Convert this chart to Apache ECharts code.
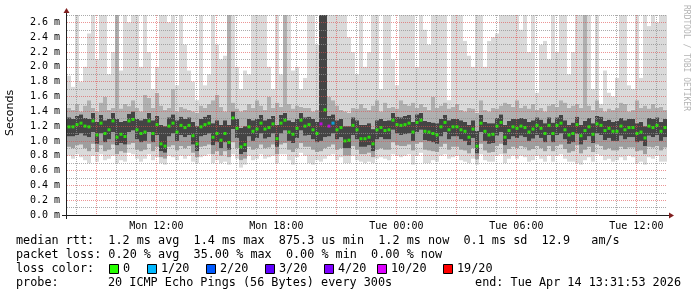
<!DOCTYPE html>
<html><head><meta charset="utf-8">
<script src="https://cdn.jsdelivr.net/npm/echarts@6/dist/echarts.min.js"></script>
<style>html,body{margin:0;padding:0;background:#fff}#c{width:697px;height:297px}</style>
</head><body><div id="c"></div>
<script>
// time in hours since Mon 00:00; 12-minute steps from Mon 07:31:53 to Tue 13:31:53
const startHour = 7 + 31/60 + 53/3600;
const stepHours = 0.2;

// median rtt (ms)
const med = [
1.19,1.19,1.22,1.24,1.20,1.19,1.27,1.08,1.24,1.10,1.15,1.27,1.05,1.09,1.06,1.27,1.29,1.15,1.10,1.12,1.27,1.10,1.22,0.96,0.93,1.20,1.24,1.12,1.21,1.18,
1.21,1.07,0.96,1.19,1.22,1.24,1.05,1.10,1.01,1.10,0.98,1.31,1.17,0.92,0.95,1.19,1.13,1.16,1.24,1.16,1.18,1.23,1.03,1.24,1.28,1.12,1.09,1.17,1.28,1.20,
1.22,1.15,1.10,1.23,1.42,1.20,1.24,1.15,1.18,1.00,1.01,1.21,1.15,1.03,1.03,1.05,0.96,1.15,1.18,1.14,1.15,1.28,1.22,1.21,1.22,1.24,1.12,1.25,1.28,1.13,
1.12,1.10,1.08,1.19,1.25,1.15,1.19,1.19,1.15,1.13,1.05,1.16,0.93,1.24,1.13,1.08,1.09,1.20,1.25,1.05,1.14,1.19,1.17,1.20,1.18,1.12,1.16,1.21,1.17,1.10,
1.21,1.10,1.21,1.24,1.15,1.08,1.10,1.22,1.07,1.14,1.19,1.09,1.23,1.21,1.14,1.17,1.13,1.13,1.20,1.15,1.18,1.18,1.10,1.12,1.04,1.20,1.18,1.21,1.13,1.18];

// smoke: min ping
const lo = [
0.80,0.76,0.82,0.78,0.74,0.70,0.80,0.72,0.82,0.74,0.76,0.80,0.70,0.74,0.72,0.84,0.82,0.76,0.72,0.76,0.82,0.74,0.78,0.70,0.68,0.80,0.78,0.74,0.80,0.76,
0.80,0.72,0.70,0.78,0.80,0.82,0.70,0.74,0.70,0.72,0.68,0.82,0.76,0.64,0.68,0.80,0.74,0.76,0.82,0.76,0.78,0.80,0.70,0.82,0.82,0.74,0.68,0.78,0.84,0.80,
0.70,0.68,0.74,0.72,0.76,0.80,0.82,0.74,0.78,0.70,0.70,0.80,0.74,0.72,0.70,0.72,0.70,0.76,0.78,0.76,0.74,0.82,0.80,0.78,0.80,0.82,0.68,0.80,0.84,0.70,
0.70,0.74,0.72,0.80,0.82,0.76,0.78,0.80,0.74,0.72,0.70,0.76,0.68,0.82,0.74,0.72,0.72,0.80,0.82,0.70,0.76,0.80,0.76,0.80,0.78,0.72,0.74,0.80,0.76,0.72,
0.80,0.72,0.80,0.82,0.76,0.72,0.72,0.70,0.68,0.74,0.78,0.72,0.82,0.80,0.74,0.76,0.72,0.74,0.78,0.74,0.80,0.78,0.70,0.72,0.68,0.78,0.76,0.80,0.72,0.72];

// smoke: lower edge of the middle band
const p10 = [
0.92,0.90,0.94,0.95,0.90,0.86,0.96,0.85,0.94,0.86,0.88,0.95,0.82,0.86,0.84,0.95,0.97,0.88,0.86,0.88,0.96,0.86,0.92,0.78,0.76,0.92,0.94,0.87,0.93,0.90,
0.93,0.84,0.78,0.92,0.93,0.95,0.82,0.86,0.80,0.86,0.78,0.98,0.90,0.74,0.76,0.92,0.88,0.90,0.95,0.90,0.91,0.95,0.82,0.95,0.97,0.88,0.85,0.90,0.97,0.92,
0.92,0.88,0.85,0.86,0.90,0.92,0.95,0.88,0.90,0.80,0.80,0.93,0.88,0.82,0.82,0.84,0.78,0.88,0.90,0.88,0.88,0.98,0.94,0.93,0.93,0.95,0.87,0.96,0.98,0.88,
0.87,0.86,0.85,0.92,0.96,0.88,0.92,0.92,0.88,0.87,0.83,0.90,0.75,0.96,0.87,0.84,0.85,0.93,0.96,0.83,0.89,0.92,0.90,0.93,0.91,0.87,0.89,0.93,0.90,0.86,
0.93,0.86,0.93,0.95,0.89,0.84,0.86,0.94,0.83,0.88,0.92,0.85,0.95,0.93,0.88,0.90,0.87,0.87,0.92,0.89,0.91,0.91,0.86,0.87,0.82,0.92,0.91,0.93,0.87,0.91];

// smoke: lower edge of the dark core
const p30 = [
1.06,1.06,1.08,1.10,1.07,1.05,1.12,0.96,1.10,0.98,1.02,1.12,0.94,0.97,0.95,1.12,1.14,1.02,0.98,1.00,1.12,0.98,1.08,0.86,0.84,1.06,1.10,1.00,1.08,1.05,
1.08,0.95,0.86,1.06,1.08,1.10,0.94,0.98,0.90,0.98,0.88,1.16,1.04,0.82,0.85,1.06,1.00,1.04,1.10,1.03,1.05,1.10,0.92,1.10,1.14,1.00,0.97,1.04,1.14,1.07,
1.08,1.02,0.98,1.00,1.05,1.06,1.10,1.02,1.05,0.90,0.90,1.08,1.02,0.92,0.92,0.94,0.86,1.02,1.05,1.02,1.02,1.15,1.10,1.08,1.09,1.10,1.00,1.12,1.15,1.01,
1.00,0.98,0.96,1.06,1.12,1.02,1.06,1.06,1.02,1.00,0.94,1.04,0.83,1.12,1.00,0.96,0.97,1.07,1.12,0.94,1.02,1.06,1.04,1.07,1.05,1.00,1.03,1.08,1.04,0.98,
1.08,0.98,1.08,1.10,1.02,0.96,0.98,1.09,0.95,1.01,1.06,0.97,1.10,1.08,1.01,1.04,1.00,1.00,1.07,1.02,1.05,1.05,0.98,1.00,0.93,1.07,1.05,1.08,1.00,1.05];

// smoke: upper edge of the dark core (steps 63-64 had several very slow pings)
const p70 = [
1.32,1.30,1.34,1.36,1.31,1.30,1.38,1.26,1.35,1.28,1.30,1.38,1.30,1.26,1.27,1.37,1.40,1.30,1.28,1.30,1.38,1.28,1.34,1.22,1.20,1.32,1.36,1.28,1.33,1.30,
1.32,1.26,1.20,1.30,1.33,1.35,1.24,1.28,1.22,1.28,1.22,1.40,1.30,1.18,1.20,1.30,1.28,1.30,1.35,1.28,1.30,1.34,1.22,1.35,1.38,1.28,1.26,1.30,1.38,1.32,
1.33,1.30,1.26,2.80,2.80,1.34,1.36,1.28,1.30,1.20,1.20,1.32,1.28,1.22,1.22,1.24,1.16,1.28,1.30,1.27,1.28,1.38,1.33,1.32,1.34,1.35,1.26,1.36,1.38,1.27,
1.26,1.25,1.24,1.30,1.35,1.28,1.30,1.30,1.28,1.26,1.22,1.28,1.14,1.35,1.26,1.24,1.24,1.31,1.36,1.22,1.27,1.30,1.30,1.31,1.30,1.26,1.28,1.32,1.29,1.24,
1.32,1.25,1.32,1.35,1.28,1.22,1.25,1.33,1.22,1.27,1.31,1.24,1.34,1.33,1.27,1.29,1.26,1.27,1.31,1.28,1.30,1.30,1.24,1.26,1.20,1.31,1.30,1.32,1.26,1.30];

// smoke: upper edge of the middle band
const p90 = [
1.45,1.42,1.50,1.40,1.48,1.55,1.45,1.40,1.52,1.60,1.42,1.45,2.80,1.44,1.50,1.47,1.55,1.45,1.40,1.62,1.58,1.45,1.65,1.48,1.42,1.45,1.70,1.40,1.46,1.44,
1.42,1.40,1.38,1.48,1.45,1.50,1.55,1.62,1.46,1.40,2.80,1.52,1.44,1.40,1.42,1.50,1.45,1.55,1.48,1.42,1.60,1.45,1.52,1.46,2.80,1.50,1.44,1.48,1.46,1.45,
1.45,1.40,1.42,2.80,2.80,1.60,1.55,1.48,1.42,1.40,1.38,1.45,1.44,1.50,1.45,1.42,1.48,1.55,1.40,1.52,1.45,1.46,1.44,1.55,1.50,1.48,1.52,1.45,1.50,1.46,
1.42,1.60,1.45,1.48,1.52,1.44,1.46,1.50,1.42,1.40,1.45,1.44,1.38,1.55,1.42,1.40,1.45,1.44,1.48,1.52,1.50,1.46,1.55,1.45,1.48,1.44,1.50,1.42,1.45,1.40,
1.48,1.50,1.46,1.55,1.52,1.45,1.48,1.50,1.45,2.80,1.48,1.42,1.55,1.45,1.40,1.44,1.42,1.45,1.52,1.50,1.40,1.42,1.55,1.45,1.48,1.44,1.50,1.45,1.46,1.42];

// smoke: max ping (clipped by the plot top)
const hi = [
1.88,1.73,2.80,1.80,2.00,2.45,2.80,2.10,2.80,2.80,1.90,2.20,2.80,1.95,2.80,2.60,2.80,2.80,2.00,2.80,2.20,1.70,2.00,2.80,2.80,2.60,2.80,1.75,2.80,2.30,
1.95,1.80,1.55,2.80,1.75,1.90,2.80,2.30,2.10,2.15,2.80,2.80,2.00,1.70,1.95,1.90,2.80,2.80,2.80,2.80,2.00,1.70,2.80,1.90,2.80,2.80,1.95,2.00,1.70,1.85,
2.80,2.80,2.30,2.80,2.80,2.80,2.80,2.80,2.80,2.80,2.40,2.20,1.90,2.80,2.00,2.20,2.80,2.80,1.70,2.80,2.80,2.10,1.75,2.80,2.80,2.80,2.80,2.00,2.80,2.50,
2.30,2.80,2.80,2.80,2.80,1.55,2.80,2.80,2.80,2.35,2.15,2.00,2.80,2.80,2.00,2.35,2.40,2.45,2.80,2.80,2.80,2.80,2.80,2.50,2.80,2.20,2.80,1.65,2.30,2.35,
2.10,2.80,2.20,2.80,2.80,1.90,2.20,2.80,2.80,2.80,2.80,1.70,2.80,1.50,1.95,1.65,1.60,1.85,2.80,2.80,1.75,1.70,2.80,1.85,2.80,2.55,2.80,2.60,2.80,2.80];

// packet loss per step: [step index, lost pings out of 20]; all others 0
const lossSteps = [[63,10],[65,10],[66,1]];

const lossLevels = [0, 1, 2, 3, 4, 10, 19];
const lossNames = ['0','1/20','2/20','3/20','4/20','10/20','19/20'];
const lossColors = ['#26ff00','#00b8ff','#0059ff','#5e00ff','#7e00ff','#dd00ff','#ff0000'];

const xTickHours = [12, 18, 24, 30, 36];
const xTickLabels = ['Mon 12:00','Mon 18:00','Tue 00:00','Tue 06:00','Tue 12:00'];

const legendLines = [
  'median rtt:  1.2 ms avg  1.4 ms max  875.3 us min  1.2 ms now  0.1 ms sd  12.9   am/s',
  'packet loss: 0.20 % avg  35.00 % max  0.00 % min  0.00 % now'
];
const probeText = '20 ICMP Echo Pings (56 Bytes) every 300s';
const endText = 'end: Tue Apr 14 13:31:53 2026';

// ---------- layout ----------
const G = {left: 67, top: 15, width: 600, height: 200};
const Y_MAX = 2.7;
const MONO = "'DejaVu Sans Mono', monospace";
const N = med.length;
const xs = med.map((_, i) => startHour + i * stepHours);
const endHour = startHour + N * stepHours;
const lossMap = {}; lossSteps.forEach(([i, c]) => lossMap[i] = c);
function lossColor(c) { let k = 0; lossLevels.forEach((l, j) => { if (c >= l) k = j; }); return lossColors[k]; }

const GRID_MINOR = 'rgba(143,143,143,0.75)', GRID_MAJOR = 'rgba(222,79,79,0.6)';
const bandColors = ['#dadada', '#9e9e9e', '#444444', '#b0b0b0', '#dadada'];
// each item: [x0, x1, lo, p10, p30, p70, p90, hi]
const smokeData = med.map((m, i) => [xs[i], xs[i] + stepHours, lo[i], p10[i], p30[i], p70[i], p90[i], hi[i]]);

const series = [
  {type: 'custom', data: smokeData, silent: true, z: 2, animation: false,
    encode: {x: [0, 1], y: [2, 7]},
    renderItem: function (params, api) {
      const x0 = Math.round(api.coord([api.value(0), 0])[0]);
      const x1 = Math.round(api.coord([api.value(1), 0])[0]);
      const Y = v => api.coord([api.value(0), Math.min(v, Y_MAX)])[1];
      const lv = [2, 3, 4, 5, 6, 7].map(k => api.value(k));
      const children = [];
      for (let j = 0; j < 5; j++) {
        const yt = Y(lv[j + 1]), yb = Y(lv[j]);
        if (yb - yt <= 0) continue;
        children.push({type: 'rect', shape: {x: x0, y: yt, width: x1 - x0, height: yb - yt},
          style: {fill: bandColors[j], stroke: null}});
      }
      return {type: 'group', children: children};
    }},
  {type: 'scatter', symbol: 'rect', symbolSize: [3, 3], z: 6, animation: false, silent: true,
    data: med.map((v, i) => ({value: [xs[i] + stepHours / 2, v],
      itemStyle: {color: lossColor(lossMap[i] || 0)}}))}
];

const chart = echarts.init(document.getElementById('c'), null, {renderer: 'canvas'});
const option = {
  backgroundColor: '#ffffff',
  animation: false,
  grid: G,
  xAxis: {type: 'value', min: startHour, max: endHour, z: 3,
    axisLine: {show: false}, axisTick: {show: false}, splitLine: {show: false},
    axisLabel: {customValues: xTickHours, margin: 6, color: '#000', fontFamily: MONO, fontSize: 10,
      formatter: v => xTickLabels[xTickHours.indexOf(Math.round(v))] || ''}},
  yAxis: {type: 'value', min: 0, max: Y_MAX, interval: 0.1, z: 3,
    axisLine: {show: false}, axisTick: {show: false},
    splitLine: {show: true, lineStyle: {color: [GRID_MAJOR, GRID_MINOR], type: [1, 1], width: 1}},
    axisLabel: {margin: 7, color: '#000', fontFamily: MONO, fontSize: 10,
      formatter: v => (Math.round(v * 10) % 2 === 0 && v < 2.65) ? v.toFixed(1) + ' m' : ''}},
  series: series
};
chart.setOption(option);

// decorations: vertical hour grid (positions from the x scale), axes, arrows, titles, legend
const left = G.left, bottom = G.top + G.height, right = G.left + G.width;
const g = [];
for (let h = Math.ceil(startHour); h <= endHour; h++) {
  const px = Math.round(chart.convertToPixel({xAxisIndex: 0}, h)) + 0.5;
  g.push({type: 'line', silent: true, shape: {x1: px, y1: G.top, x2: px, y2: bottom},
    style: {stroke: h % 3 === 0 ? GRID_MAJOR : GRID_MINOR, lineWidth: 1, lineDash: [1, 1]}, z: 4});
}
g.push({type: 'line', shape: {x1: left - 5, y1: bottom + 0.5, x2: right + 3, y2: bottom + 0.5}, style: {stroke: '#1f1f1f', lineWidth: 1}, z: 10});
g.push({type: 'line', shape: {x1: left - 0.5, y1: bottom + 4, x2: left - 0.5, y2: G.top - 3}, style: {stroke: '#1f1f1f', lineWidth: 1}, z: 10});
g.push({type: 'polygon', shape: {points: [[left - 0.5, G.top - 7], [left - 3.5, G.top - 2], [left + 2.5, G.top - 2]]}, style: {fill: '#801f1f'}, z: 11});
g.push({type: 'polygon', shape: {points: [[right + 7, bottom + 0.5], [right + 2, bottom - 2.5], [right + 2, bottom + 3.5]]}, style: {fill: '#801f1f'}, z: 11});
g.push({type: 'text', x: 10, y: G.top + G.height / 2 - 2, rotation: Math.PI / 2,
  style: {text: 'Seconds', fill: '#000', font: "11px 'DejaVu Sans'", textAlign: 'center', textVerticalAlign: 'middle'}, z: 10});
g.push({type: 'text', x: 686, y: 5, rotation: -Math.PI / 2,
  style: {text: 'RRDTOOL / TOBI OETIKER', fill: '#b4b4b4', font: "8px " + MONO, textAlign: 'left', textVerticalAlign: 'middle'}, z: 10});
const LF = "11.8px " + MONO;
legendLines.forEach((t, i) => g.push({type: 'text', x: 16, y: 241 + i * 14,
  style: {text: t, fill: '#000', font: LF, textAlign: 'left', textVerticalAlign: 'middle'}, z: 10}));
g.push({type: 'text', x: 16, y: 269, style: {text: 'loss color:', fill: '#000', font: LF, textAlign: 'left', textVerticalAlign: 'middle'}, z: 10});
const boxX = [109, 147, 206, 265, 324, 377, 443];
lossNames.forEach((n, i) => {
  g.push({type: 'rect', shape: {x: boxX[i] + 0.5, y: 264.5, width: 9, height: 9}, style: {fill: lossColors[i], stroke: '#000', lineWidth: 1}, z: 10});
  g.push({type: 'text', x: boxX[i] + 14, y: 269, style: {text: n, fill: '#000', font: LF, textAlign: 'left', textVerticalAlign: 'middle'}, z: 10});
});
g.push({type: 'text', x: 16, y: 283, style: {text: 'probe:', fill: '#000', font: LF, textAlign: 'left', textVerticalAlign: 'middle'}, z: 10});
g.push({type: 'text', x: 108, y: 283, style: {text: probeText, fill: '#000', font: LF, textAlign: 'left', textVerticalAlign: 'middle'}, z: 10});
g.push({type: 'text', x: 681, y: 283, style: {text: endText, fill: '#000', font: LF, textAlign: 'right', textVerticalAlign: 'middle'}, z: 10});
chart.setOption({graphic: {elements: g}});
</script></body></html>
